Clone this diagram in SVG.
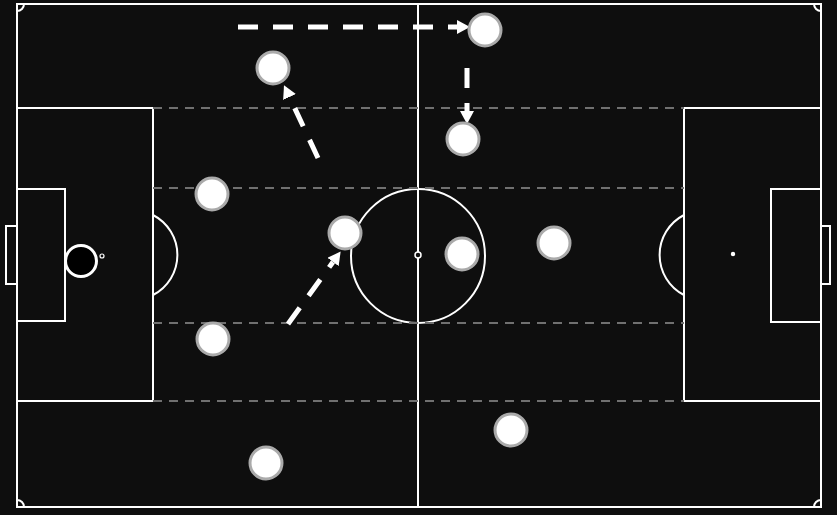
<svg xmlns="http://www.w3.org/2000/svg" width="837" height="515" viewBox="0 0 837 515">
  <defs>
    <marker id="head" viewBox="0 -7 13 14" refX="0" refY="0" markerWidth="13" markerHeight="14" markerUnits="userSpaceOnUse" orient="auto">
      <path d="M0,-7 L13,0 L0,7 z" fill="#ffffff"/>
    </marker>
  </defs>
  <style>
    .line { fill: none; stroke: #ffffff; stroke-width: 2; }
    .zone { fill: none; stroke: #707070; stroke-width: 2; stroke-dasharray: 9 7; }
    .player { fill: #ffffff; stroke: #aaaaaa; stroke-width: 3; }
    .run { fill: none; stroke: #ffffff; stroke-width: 5; stroke-dasharray: 20 15; marker-end: url(#head); }
  </style>
  <rect x="0" y="0" width="837" height="515" fill="#0e0e0e"/>

  <g id="pitch">
    <rect class="line" x="17" y="4" width="804" height="503"/>
    <line class="line" x1="418" y1="4" x2="418" y2="507"/>
    <circle class="line" cx="418" cy="256" r="67"/>
    <circle cx="418" cy="255" r="3" fill="#0e0e0e" stroke="#ffffff" stroke-width="1.5"/>
    <!-- left -->
    <rect class="line" x="17" y="108" width="136" height="293"/>
    <rect class="line" x="17" y="189" width="48" height="132"/>
    <rect class="line" x="6" y="226" width="11" height="58"/>
    <path class="line" d="M153,215 A45,45 0 0 1 153,295"/>
    <circle cx="102" cy="256" r="2" fill="#0e0e0e" stroke="#ffffff" stroke-width="1.2"/>
    <!-- right -->
    <rect class="line" x="684" y="108" width="137" height="293"/>
    <rect class="line" x="771" y="189" width="50" height="133"/>
    <rect class="line" x="821" y="226" width="9" height="58"/>
    <path class="line" d="M684,215 A45,45 0 0 0 684,295"/>
    <circle cx="733" cy="254" r="2.2" fill="#ffffff"/>
    <!-- corners -->
    <path class="line" d="M17,11 A7,7 0 0 0 24,4"/>
    <path class="line" d="M814,4 A7,7 0 0 0 821,11"/>
    <path class="line" d="M17,500 A7,7 0 0 1 24,507"/>
    <path class="line" d="M814,507 A7,7 0 0 1 821,500"/>
  </g>

  <g id="zones">
    <line class="zone" x1="153" y1="108" x2="684" y2="108"/>
    <line class="zone" x1="153" y1="188" x2="684" y2="188"/>
    <line class="zone" x1="153" y1="323" x2="684" y2="323"/>
    <line class="zone" x1="153" y1="401" x2="684" y2="401"/>
  </g>

  <g id="connectors">
    <path class="run" d="M238,27 L457,27"/>
    <path class="run" d="M467,68 L467,111"/>
    <path class="run" d="M318,158 L289.5,97"/>
    <path class="run" d="M288,324 L333,262"/>
  </g>

  <g id="goalkeeper"><circle cx="81" cy="261" r="15.5" fill="#000000" stroke="#ffffff" stroke-width="3"/></g>
  <g id="p1"><circle class="player" cx="485" cy="30" r="16"/></g>
  <g id="p2"><circle class="player" cx="273" cy="68" r="16"/></g>
  <g id="p3"><circle class="player" cx="463" cy="139" r="16"/></g>
  <g id="p4"><circle class="player" cx="212" cy="194" r="16"/></g>
  <g id="p5"><circle class="player" cx="345" cy="233" r="16"/></g>
  <g id="p6"><circle class="player" cx="462" cy="254" r="16"/></g>
  <g id="p7"><circle class="player" cx="554" cy="243" r="16"/></g>
  <g id="p8"><circle class="player" cx="213" cy="339" r="16"/></g>
  <g id="p9"><circle class="player" cx="511" cy="430" r="16"/></g>
  <g id="p10"><circle class="player" cx="266" cy="463" r="16"/></g>
</svg>
